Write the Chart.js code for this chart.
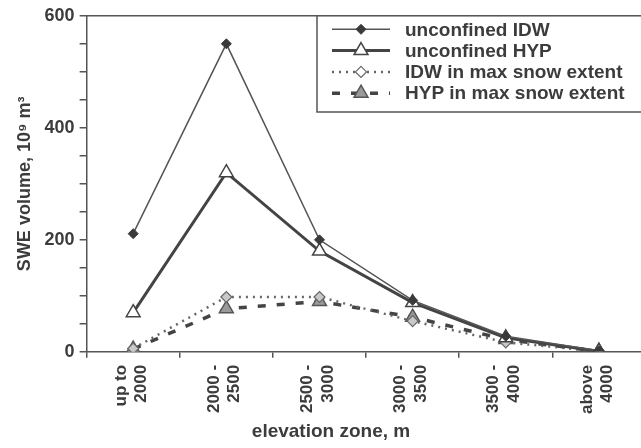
<!DOCTYPE html>
<html>
<head>
<meta charset="utf-8">
<script src="https://cdn.jsdelivr.net/npm/chart.js@4.4.1/dist/chart.umd.min.js"></script>
<style>
  html, body { margin: 0; padding: 0; background: #fff; overflow: hidden; }
  #wrap { width: 641px; height: 448px; overflow: hidden; }
</style>
</head>
<body>
<!-- canvas is a bit wider than the window: the plot frame runs off the right edge -->
<div id="wrap"><canvas id="sweChart" width="655" height="448"></canvas></div>
<script>
// elevation zones (two-line tick labels)
const zones = [
    ['up to', '2000'],
    ['2000 -', '2500'],
    ['2500 -', '3000'],
    ['3000 -', '3500'],
    ['3500 -', '4000'],
    ['above', '4000']
];

// SWE volume, 10^9 m^3
const idwUnconfined = [211, 550, 200, 92, 28, 2];
const hypUnconfined = [70, 320, 180, 88, 25, 1];
const idwMaxSnow = [6, 98, 98, 55, 17, 1];
const hypMaxSnow = [5, 77, 90, 62, 22, 1];

// labelled ticks on the y axis
const yTickLabels = [0, 200, 400, 600];

const X_TITLE = 'elevation zone, m';
const INK = '#3c3c3c';
const FONT = '"Liberation Sans", Arial, sans-serif';

// small marker painter, shared by the legend box
function drawMarker(ctx, style, x, y, r, fill, stroke, lw) {
    ctx.beginPath();
    if (style === 'triangle') {
        for (let k = 0; k < 3; k++) {
            const a = k * 2 * Math.PI / 3;
            const px = x + Math.sin(a) * r;
            const py = y - Math.cos(a) * r;
            if (k === 0) ctx.moveTo(px, py); else ctx.lineTo(px, py);
        }
    } else {
        ctx.moveTo(x, y - r);
        ctx.lineTo(x + r, y);
        ctx.lineTo(x, y + r);
        ctx.lineTo(x - r, y);
    }
    ctx.closePath();
    ctx.fillStyle = fill;
    ctx.fill();
    ctx.lineWidth = lw;
    ctx.strokeStyle = stroke;
    ctx.stroke();
}

// top frame line of the plot + x axis title (sits left of the plot centre in the original)
const frameAndTitle = {
    id: 'frameAndTitle',
    beforeDatasetsDraw(chart) {
        const { ctx, chartArea } = chart;
        ctx.save();
        ctx.strokeStyle = '#555';
        ctx.lineWidth = 1.5;
        ctx.beginPath();
        ctx.moveTo(chartArea.left, chartArea.top);
        ctx.lineTo(chart.width, chartArea.top);
        ctx.stroke();

        ctx.fillStyle = INK;
        ctx.font = 'bold 19px ' + FONT;
        ctx.textAlign = 'center';
        ctx.textBaseline = 'middle';
        ctx.fillText(X_TITLE, 331, 432);
        ctx.restore();
    }
};

// boxed legend with line + marker samples
const boxLegend = {
    id: 'boxLegend',
    afterDraw(chart) {
        const { ctx, chartArea } = chart;
        const left = 317, top = chartArea.top, bottom = 112, right = chart.width + 4;
        ctx.save();
        ctx.fillStyle = '#fff';
        ctx.fillRect(left, top, right - left, bottom - top);
        ctx.strokeStyle = '#555';
        ctx.lineWidth = 1.5;
        ctx.strokeRect(left, top, right - left, bottom - top);

        chart.data.datasets.forEach((ds, i) => {
            const y = top + 13.5 + i * 21.3;
            ctx.beginPath();
            ctx.setLineDash(ds.borderDash || []);
            ctx.lineWidth = ds.borderWidth;
            ctx.strokeStyle = ds.borderColor;
            ctx.moveTo(332, y);
            ctx.lineTo(390, y);
            ctx.stroke();
            ctx.setLineDash([]);
            drawMarker(ctx, ds.pointStyle, 361, y, ds.pointRadius,
                ds.legendFill || ds.pointBackgroundColor, ds.pointBorderColor, ds.pointBorderWidth);
            ctx.fillStyle = INK;
            ctx.font = 'bold 19px ' + FONT;
            ctx.textBaseline = 'middle';
            ctx.textAlign = 'left';
            ctx.fillText(ds.label, 405, y + 1);
        });
        ctx.restore();
    }
};

new Chart(document.getElementById('sweChart').getContext('2d'), {
    type: 'line',
    data: {
        labels: zones,
        datasets: [
            {
                label: 'unconfined IDW',
                data: idwUnconfined,
                borderColor: '#555',
                borderWidth: 1.5,
                pointStyle: 'rectRot',
                pointRadius: 5,
                pointBackgroundColor: '#3a3a3a',
                pointBorderColor: '#3a3a3a',
                pointBorderWidth: 1,
                tension: 0
            },
            {
                label: 'unconfined HYP',
                data: hypUnconfined,
                borderColor: '#444',
                borderWidth: 3,
                pointStyle: 'triangle',
                pointRadius: 8,
                pointBackgroundColor: '#fff',
                pointBorderColor: '#444',
                pointBorderWidth: 1.5,
                tension: 0
            },
            {
                label: 'IDW in max snow extent',
                data: idwMaxSnow,
                borderColor: '#666',
                borderWidth: 2.5,
                borderDash: [2, 5],
                pointStyle: 'rectRot',
                pointRadius: 5.5,
                pointBackgroundColor: '#c8c8c8',
                legendFill: '#fff',
                pointBorderColor: '#666',
                pointBorderWidth: 1.2,
                tension: 0
            },
            {
                label: 'HYP in max snow extent',
                data: hypMaxSnow,
                borderColor: '#444',
                borderWidth: 3.5,
                borderDash: [8, 11],
                pointStyle: 'triangle',
                pointRadius: 8,
                pointBackgroundColor: '#9a9a9a',
                pointBorderColor: '#555',
                pointBorderWidth: 1.5,
                tension: 0
            }
        ]
    },
    options: {
        responsive: false,
        animation: false,
        layout: { padding: { top: 8, right: 0, bottom: 27, left: 14 } },
        plugins: {
            legend: { display: false },
            tooltip: { enabled: false }
        },
        scales: {
            x: {
                offset: true,
                grid: { offset: true, drawOnChartArea: false, tickLength: 6, color: '#555', lineWidth: 1.5 },
                border: { color: '#555', width: 1.5 },
                ticks: {
                    color: INK,
                    font: { family: FONT, size: 17, weight: 'bold', lineHeight: 1.2 },
                    minRotation: 90,
                    maxRotation: 90,
                    autoSkip: false,
                    labelOffset: -12,
                    padding: 7
                }
            },
            y: {
                min: 0,
                max: 600,
                grid: { drawOnChartArea: false, tickLength: 7, color: '#555', lineWidth: 1.5 },
                border: { color: '#555', width: 1.5 },
                ticks: {
                    stepSize: 50,
                    color: INK,
                    font: { family: FONT, size: 18, weight: 'bold' },
                    padding: 5,
                    callback: v => yTickLabels.includes(v) ? String(v) : ''
                },
                title: {
                    display: true,
                    text: 'SWE volume, 10⁹ m³',
                    color: INK,
                    font: { family: FONT, size: 18, weight: 'bold' },
                    padding: { top: 0, bottom: 4 }
                }
            }
        }
    },
    plugins: [frameAndTitle, boxLegend]
});
</script>
</body>
</html>
